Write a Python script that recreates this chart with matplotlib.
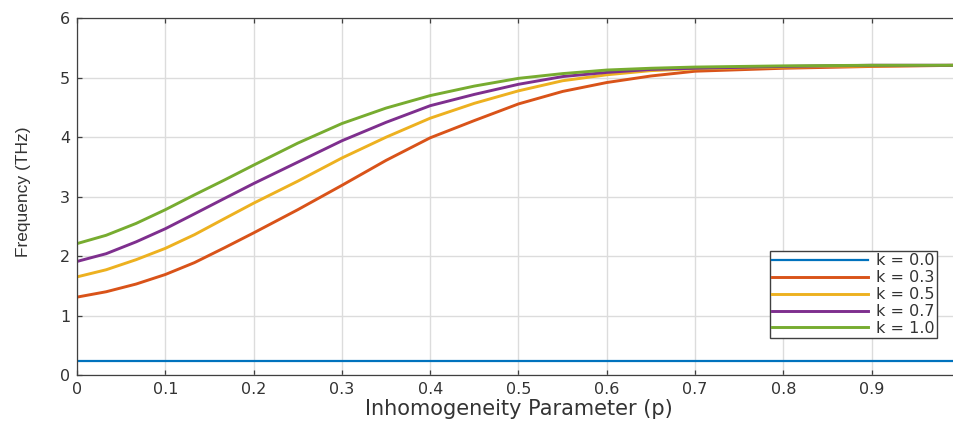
import matplotlib
matplotlib.use('Agg')
import matplotlib.pyplot as plt

# 数据
p = [0.0, 0.033, 0.067, 0.1, 0.133, 0.167, 0.2, 0.25, 0.3, 0.35,
     0.4, 0.45, 0.5, 0.55, 0.6, 0.65, 0.7, 0.8, 0.9, 1.0]

freq_k00 = [0.24] * len(p)
freq_k03 = [1.31, 1.40, 1.53, 1.69, 1.89, 2.14, 2.39, 2.78, 3.19, 3.61,
            3.99, 4.28, 4.56, 4.77, 4.92, 5.03, 5.11, 5.16, 5.19, 5.21]
freq_k05 = [1.65, 1.77, 1.94, 2.13, 2.36, 2.63, 2.89, 3.26, 3.65, 4.00,
            4.32, 4.57, 4.78, 4.95, 5.05, 5.12, 5.15, 5.18, 5.20, 5.21]
freq_k07 = [1.91, 2.04, 2.24, 2.46, 2.71, 2.97, 3.22, 3.58, 3.94, 4.25,
            4.53, 4.72, 4.89, 5.02, 5.09, 5.14, 5.16, 5.19, 5.21, 5.21]
freq_k10 = [2.21, 2.35, 2.55, 2.78, 3.03, 3.28, 3.53, 3.90, 4.23, 4.49,
            4.70, 4.86, 4.99, 5.07, 5.13, 5.16, 5.18, 5.20, 5.21, 5.21]

labels = ['k = 0.0', 'k = 0.3', 'k = 0.5', 'k = 0.7', 'k = 1.0']
colors = ['#0072BD', '#D95319', '#EDB120', '#7E2F8E', '#77AC30']

x_ticks = [0, 0.1, 0.2, 0.3, 0.4, 0.5, 0.6, 0.7, 0.8, 0.9, 1.0]
x_ticklabels = ['0', '0.1', '0.2', '0.3', '0.4', '0.5', '0.6', '0.7', '0.8', '0.9', '1']
y_ticks = [0, 1, 2, 3, 4, 5, 6]

plt.rcParams['font.family'] = ['DejaVu Sans']

fig = plt.figure(figsize=(9.54, 4.21), dpi=100)
ax = fig.add_axes([0.0807, 0.1093, 0.9256, 0.8472])

series = [freq_k00, freq_k03, freq_k05, freq_k07, freq_k10]
for i, (vals, lab, col) in enumerate(zip(series, labels, colors)):
    lw = 1.6 if i == 0 else 2.1
    ax.plot(p, vals, color=col, linewidth=lw, label=lab,
            solid_joinstyle='round')

ax.set_xlim(0, 1)
ax.set_ylim(0, 6)
ax.set_xticks(x_ticks)
ax.set_xticklabels(x_ticklabels)
ax.set_yticks(y_ticks)

ax.grid(True, color='#dcdcdc', linewidth=1.0)
ax.set_axisbelow(True)

for s in ax.spines.values():
    s.set_color('#404040')
    s.set_linewidth(0.9)

ax.tick_params(direction='in', top=True, right=True, length=3.5, width=0.9,
               color='#404040', labelcolor='#333333', labelsize=11.5, pad=5)

ax.set_xlabel('Inhomogeneity Parameter (p)', fontsize=15, color='#333333')
ax.xaxis.set_label_coords(0.5, -0.068)
ax.set_ylabel('Frequency (THz)', fontsize=12.5, color='#333333', family='Liberation Sans')
ax.yaxis.set_label_coords(-0.052, 0.515)

leg = ax.legend(loc='upper right', bbox_to_anchor=(0.9822, 0.4038),
                bbox_transform=fig.transFigure, borderaxespad=0,
                fontsize=11.5, handlelength=6.0, handletextpad=0.5,
                labelspacing=0.12, borderpad=0.15, fancybox=False,
                framealpha=1, edgecolor='#404040')
leg.get_frame().set_linewidth(1.0)
for t in leg.get_texts():
    t.set_color('#333333')

fig.savefig('out.png', dpi=100)
plt.close(fig)
